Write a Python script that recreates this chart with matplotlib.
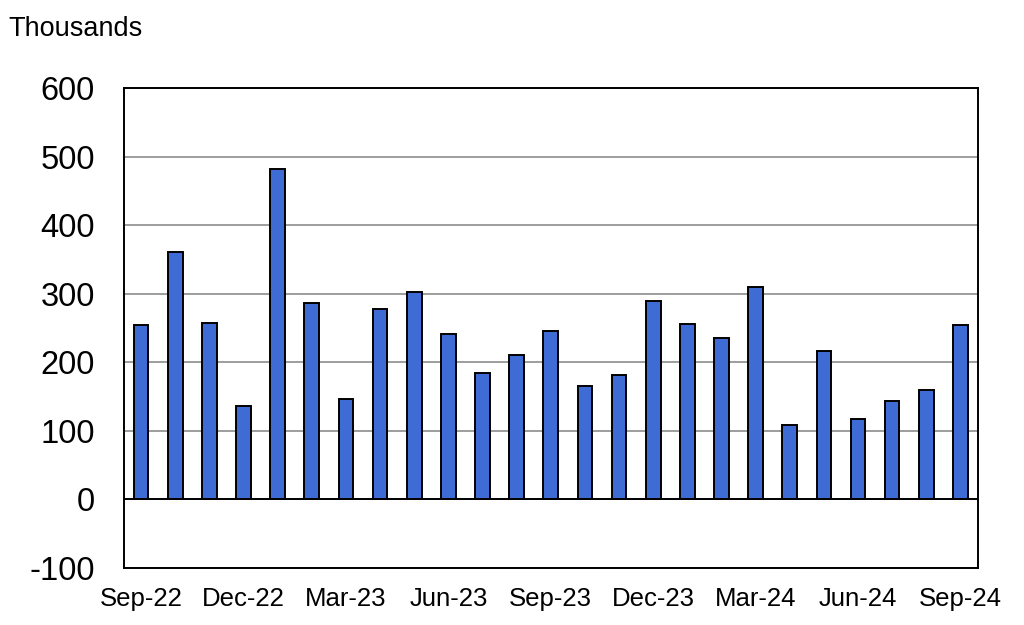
import matplotlib
matplotlib.use("Agg")
import matplotlib.pyplot as plt
import numpy as np

plt.rcParams['font.family'] = ['Liberation Sans', 'DejaVu Sans']

# monthly change, thousands
months = ['Sep-22', 'Oct-22', 'Nov-22', 'Dec-22', 'Jan-23', 'Feb-23', 'Mar-23',
          'Apr-23', 'May-23', 'Jun-23', 'Jul-23', 'Aug-23', 'Sep-23', 'Oct-23',
          'Nov-23', 'Dec-23', 'Jan-24', 'Feb-24', 'Mar-24', 'Apr-24', 'May-24',
          'Jun-24', 'Jul-24', 'Aug-24', 'Sep-24']
values = [255, 361, 258, 136, 482, 287, 146, 278, 303, 241, 184, 211, 246,
          165, 182, 290, 256, 236, 310, 108, 216, 118, 144, 159, 254]
yticks = [-100, 0, 100, 200, 300, 400, 500, 600]

fig = plt.figure(figsize=(10.24, 6.25), dpi=100)
ax = fig.add_axes([124/1024, 1 - 568/625, (977.5 - 124)/1024, (568 - 88)/625])

x = np.arange(len(months))
ax.set_axisbelow(True)
ax.yaxis.grid(True, color='#8c8c8c', linewidth=1.2)
ax.bar(x, values, width=0.43, color='#3f6bd4', edgecolor='black', linewidth=1.4, zorder=3)
ax.axhline(0, color='black', linewidth=1.4, zorder=4)

ax.set_xlim(-0.5, len(months) - 0.5)
ax.set_ylim(-100, 600)
ax.set_yticks(yticks)
ax.set_yticklabels([str(v) for v in yticks], fontsize=23.5)
ax.set_xticks(x[::3])
ax.set_xticklabels(months[::3], fontsize=18.5)
ax.tick_params(axis='y', length=0, pad=21)
ax.tick_params(axis='x', length=0, pad=14)
for s in ax.spines.values():
    s.set_linewidth(1.4)
    s.set_color('black')

fig.text(8/1024, 1 - 29/625, 'Thousands', fontsize=19.5, va='center', ha='left')

fig.savefig('out.png', dpi=100)
